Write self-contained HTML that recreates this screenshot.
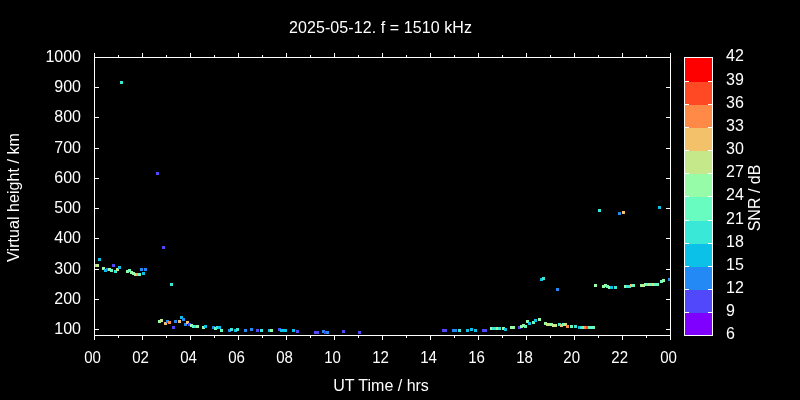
<!DOCTYPE html>
<html><head><meta charset="utf-8"><title>2025-05-12. f = 1510 kHz</title>
<style>html,body{margin:0;padding:0;background:#000}body{width:800px;height:400px;overflow:hidden}svg{display:block}text{font-family:"Liberation Sans",Arial,sans-serif;font-size:16px;fill:#fff}</style></head><body>
<svg width="800" height="400" viewBox="0 0 800 400">
<rect x="0" y="0" width="800" height="400" fill="#000"/>
<g shape-rendering="crispEdges">
<rect x="120" y="81" width="3" height="3" fill="#3ae8d7"/>
<rect x="156" y="172" width="3" height="3" fill="#5148fc"/>
<rect x="94" y="264" width="3" height="3" fill="#3ae8d7"/>
<rect x="96" y="264" width="3" height="3" fill="#c5e88a"/>
<rect x="98" y="258" width="3" height="3" fill="#0cc1e8"/>
<rect x="102" y="267" width="3" height="3" fill="#97fca7"/>
<rect x="104" y="269" width="3" height="3" fill="#0cc1e8"/>
<rect x="106" y="268" width="3" height="3" fill="#238af5"/>
<rect x="108" y="268" width="3" height="3" fill="#97fca7"/>
<rect x="110" y="269" width="3" height="3" fill="#68fcc1"/>
<rect x="112" y="264" width="3" height="3" fill="#5148fc"/>
<rect x="114" y="270" width="3" height="3" fill="#3ae8d7"/>
<rect x="116" y="268" width="3" height="3" fill="#c5e88a"/>
<rect x="118" y="266" width="3" height="3" fill="#0cc1e8"/>
<rect x="126" y="270" width="3" height="3" fill="#97fca7"/>
<rect x="128" y="269" width="3" height="3" fill="#68fcc1"/>
<rect x="130" y="271" width="3" height="3" fill="#97fca7"/>
<rect x="132" y="272" width="3" height="3" fill="#97fca7"/>
<rect x="134" y="273" width="3" height="3" fill="#97fca7"/>
<rect x="136" y="273" width="3" height="3" fill="#ffa050"/>
<rect x="138" y="273" width="3" height="3" fill="#68fcc1"/>
<rect x="140" y="268" width="3" height="3" fill="#238af5"/>
<rect x="142" y="272" width="3" height="3" fill="#0cc1e8"/>
<rect x="144" y="268" width="3" height="3" fill="#238af5"/>
<rect x="162" y="246" width="3" height="3" fill="#5148fc"/>
<rect x="170" y="283" width="3" height="3" fill="#3ae8d7"/>
<rect x="158" y="320" width="3" height="3" fill="#97fca7"/>
<rect x="160" y="319" width="3" height="3" fill="#c5e88a"/>
<rect x="164" y="322" width="3" height="3" fill="#f3c16a"/>
<rect x="166" y="320" width="3" height="3" fill="#238af5"/>
<rect x="168" y="321" width="3" height="3" fill="#ff8a48"/>
<rect x="172" y="326" width="3" height="3" fill="#5148fc"/>
<rect x="174" y="320" width="3" height="3" fill="#238af5"/>
<rect x="178" y="320" width="3" height="3" fill="#f3c16a"/>
<rect x="180" y="316" width="3" height="3" fill="#0cc1e8"/>
<rect x="182" y="318" width="3" height="3" fill="#238af5"/>
<rect x="184" y="323" width="3" height="3" fill="#238af5"/>
<rect x="186" y="321" width="3" height="3" fill="#f3c16a"/>
<rect x="188" y="323" width="3" height="3" fill="#5148fc"/>
<rect x="190" y="324" width="3" height="3" fill="#97fca7"/>
<rect x="192" y="325" width="3" height="3" fill="#68fcc1"/>
<rect x="194" y="325" width="3" height="3" fill="#3ae8d7"/>
<rect x="196" y="325" width="3" height="3" fill="#97fca7"/>
<rect x="202" y="326" width="3" height="3" fill="#97fca7"/>
<rect x="204" y="325" width="3" height="3" fill="#0cc1e8"/>
<rect x="212" y="326" width="3" height="3" fill="#238af5"/>
<rect x="214" y="327" width="3" height="3" fill="#68fcc1"/>
<rect x="216" y="326" width="3" height="3" fill="#3ae8d7"/>
<rect x="218" y="326" width="3" height="3" fill="#0cc1e8"/>
<rect x="220" y="329" width="3" height="3" fill="#68fcc1"/>
<rect x="228" y="329" width="3" height="3" fill="#238af5"/>
<rect x="230" y="328" width="3" height="3" fill="#3ae8d7"/>
<rect x="234" y="329" width="3" height="3" fill="#0cc1e8"/>
<rect x="236" y="328" width="3" height="3" fill="#3ae8d7"/>
<rect x="244" y="329" width="3" height="3" fill="#238af5"/>
<rect x="250" y="328" width="3" height="3" fill="#238af5"/>
<rect x="256" y="329" width="3" height="3" fill="#5148fc"/>
<rect x="260" y="329" width="3" height="3" fill="#3ae8d7"/>
<rect x="268" y="329" width="3" height="3" fill="#0cc1e8"/>
<rect x="270" y="329" width="3" height="3" fill="#97fca7"/>
<rect x="278" y="328" width="3" height="3" fill="#5148fc"/>
<rect x="280" y="329" width="3" height="3" fill="#0cc1e8"/>
<rect x="282" y="329" width="3" height="3" fill="#0cc1e8"/>
<rect x="284" y="329" width="3" height="3" fill="#0cc1e8"/>
<rect x="292" y="329" width="3" height="3" fill="#0cc1e8"/>
<rect x="296" y="330" width="3" height="3" fill="#5148fc"/>
<rect x="314" y="331" width="3" height="3" fill="#5148fc"/>
<rect x="316" y="331" width="3" height="3" fill="#5148fc"/>
<rect x="322" y="330" width="3" height="3" fill="#238af5"/>
<rect x="324" y="331" width="3" height="3" fill="#5148fc"/>
<rect x="326" y="331" width="3" height="3" fill="#238af5"/>
<rect x="342" y="330" width="3" height="3" fill="#5148fc"/>
<rect x="358" y="331" width="3" height="3" fill="#5148fc"/>
<rect x="442" y="329" width="3" height="3" fill="#5148fc"/>
<rect x="444" y="329" width="3" height="3" fill="#5148fc"/>
<rect x="452" y="329" width="3" height="3" fill="#238af5"/>
<rect x="454" y="329" width="3" height="3" fill="#238af5"/>
<rect x="458" y="329" width="3" height="3" fill="#3ae8d7"/>
<rect x="466" y="329" width="3" height="3" fill="#0cc1e8"/>
<rect x="470" y="328" width="3" height="3" fill="#0cc1e8"/>
<rect x="474" y="329" width="3" height="3" fill="#0cc1e8"/>
<rect x="482" y="329" width="3" height="3" fill="#5148fc"/>
<rect x="484" y="329" width="3" height="3" fill="#5148fc"/>
<rect x="490" y="327" width="3" height="3" fill="#97fca7"/>
<rect x="492" y="327" width="3" height="3" fill="#3ae8d7"/>
<rect x="494" y="327" width="3" height="3" fill="#3ae8d7"/>
<rect x="496" y="327" width="3" height="3" fill="#97fca7"/>
<rect x="498" y="327" width="3" height="3" fill="#3ae8d7"/>
<rect x="502" y="327" width="3" height="3" fill="#97fca7"/>
<rect x="504" y="328" width="3" height="3" fill="#0cc1e8"/>
<rect x="510" y="326" width="3" height="3" fill="#97fca7"/>
<rect x="512" y="326" width="3" height="3" fill="#97fca7"/>
<rect x="518" y="326" width="3" height="3" fill="#5148fc"/>
<rect x="520" y="325" width="3" height="3" fill="#97fca7"/>
<rect x="522" y="324" width="3" height="3" fill="#97fca7"/>
<rect x="524" y="325" width="3" height="3" fill="#68fcc1"/>
<rect x="526" y="320" width="3" height="3" fill="#97fca7"/>
<rect x="528" y="322" width="3" height="3" fill="#0cc1e8"/>
<rect x="532" y="321" width="3" height="3" fill="#68fcc1"/>
<rect x="534" y="319" width="3" height="3" fill="#0cc1e8"/>
<rect x="538" y="318" width="3" height="3" fill="#97fca7"/>
<rect x="544" y="322" width="3" height="3" fill="#97fca7"/>
<rect x="546" y="323" width="3" height="3" fill="#c5e88a"/>
<rect x="548" y="323" width="3" height="3" fill="#c5e88a"/>
<rect x="550" y="323" width="3" height="3" fill="#97fca7"/>
<rect x="552" y="324" width="3" height="3" fill="#c5e88a"/>
<rect x="554" y="324" width="3" height="3" fill="#c5e88a"/>
<rect x="558" y="323" width="3" height="3" fill="#3ae8d7"/>
<rect x="560" y="324" width="3" height="3" fill="#f3c16a"/>
<rect x="562" y="323" width="3" height="3" fill="#68fcc1"/>
<rect x="564" y="323" width="3" height="3" fill="#c5e88a"/>
<rect x="566" y="325" width="3" height="3" fill="#ff8a48"/>
<rect x="570" y="325" width="3" height="3" fill="#68fcc1"/>
<rect x="574" y="325" width="3" height="3" fill="#3ae8d7"/>
<rect x="578" y="326" width="3" height="3" fill="#0cc1e8"/>
<rect x="580" y="326" width="3" height="3" fill="#3ae8d7"/>
<rect x="582" y="326" width="3" height="3" fill="#68fcc1"/>
<rect x="584" y="326" width="3" height="3" fill="#ff8a48"/>
<rect x="586" y="326" width="3" height="3" fill="#ff4824"/>
<rect x="588" y="326" width="3" height="3" fill="#68fcc1"/>
<rect x="590" y="326" width="3" height="3" fill="#68fcc1"/>
<rect x="592" y="326" width="3" height="3" fill="#68fcc1"/>
<rect x="540" y="278" width="3" height="3" fill="#0cc1e8"/>
<rect x="542" y="277" width="3" height="3" fill="#3ae8d7"/>
<rect x="556" y="288" width="3" height="3" fill="#238af5"/>
<rect x="594" y="284" width="3" height="3" fill="#97fca7"/>
<rect x="602" y="285" width="3" height="3" fill="#97fca7"/>
<rect x="604" y="284" width="3" height="3" fill="#97fca7"/>
<rect x="606" y="285" width="3" height="3" fill="#68fcc1"/>
<rect x="608" y="286" width="3" height="3" fill="#97fca7"/>
<rect x="610" y="286" width="3" height="3" fill="#0cc1e8"/>
<rect x="614" y="286" width="3" height="3" fill="#3ae8d7"/>
<rect x="598" y="209" width="3" height="3" fill="#3ae8d7"/>
<rect x="618" y="212" width="3" height="3" fill="#238af5"/>
<rect x="622" y="211" width="3" height="3" fill="#f3c16a"/>
<rect x="658" y="206" width="3" height="3" fill="#0cc1e8"/>
<rect x="624" y="285" width="3" height="3" fill="#97fca7"/>
<rect x="626" y="285" width="3" height="3" fill="#3ae8d7"/>
<rect x="628" y="285" width="3" height="3" fill="#3ae8d7"/>
<rect x="630" y="284" width="3" height="3" fill="#f3c16a"/>
<rect x="632" y="284" width="3" height="3" fill="#68fcc1"/>
<rect x="640" y="284" width="3" height="3" fill="#97fca7"/>
<rect x="642" y="284" width="3" height="3" fill="#c5e88a"/>
<rect x="644" y="283" width="3" height="3" fill="#97fca7"/>
<rect x="646" y="283" width="3" height="3" fill="#68fcc1"/>
<rect x="648" y="283" width="3" height="3" fill="#c5e88a"/>
<rect x="650" y="283" width="3" height="3" fill="#68fcc1"/>
<rect x="652" y="283" width="3" height="3" fill="#c5e88a"/>
<rect x="654" y="283" width="3" height="3" fill="#68fcc1"/>
<rect x="656" y="283" width="3" height="3" fill="#68fcc1"/>
<rect x="660" y="280" width="3" height="3" fill="#68fcc1"/>
<rect x="662" y="279" width="3" height="3" fill="#97fca7"/>
<rect x="668" y="278" width="3" height="3" fill="#238af5"/>
</g>
<g fill="#fff" shape-rendering="crispEdges">
<rect x="94" y="57" width="577" height="1"/>
<rect x="94" y="335" width="577" height="1"/>
<rect x="94" y="57" width="1" height="279"/>
<rect x="670" y="57" width="1" height="279"/>
<rect x="94" y="336" width="1" height="4"/>
<rect x="94" y="53" width="1" height="4"/>
<rect x="118" y="336" width="1" height="2"/>
<rect x="118" y="55" width="1" height="2"/>
<rect x="142" y="336" width="1" height="4"/>
<rect x="142" y="53" width="1" height="4"/>
<rect x="166" y="336" width="1" height="2"/>
<rect x="166" y="55" width="1" height="2"/>
<rect x="190" y="336" width="1" height="4"/>
<rect x="190" y="53" width="1" height="4"/>
<rect x="214" y="336" width="1" height="2"/>
<rect x="214" y="55" width="1" height="2"/>
<rect x="238" y="336" width="1" height="4"/>
<rect x="238" y="53" width="1" height="4"/>
<rect x="262" y="336" width="1" height="2"/>
<rect x="262" y="55" width="1" height="2"/>
<rect x="286" y="336" width="1" height="4"/>
<rect x="286" y="53" width="1" height="4"/>
<rect x="310" y="336" width="1" height="2"/>
<rect x="310" y="55" width="1" height="2"/>
<rect x="334" y="336" width="1" height="4"/>
<rect x="334" y="53" width="1" height="4"/>
<rect x="358" y="336" width="1" height="2"/>
<rect x="358" y="55" width="1" height="2"/>
<rect x="382" y="336" width="1" height="4"/>
<rect x="382" y="53" width="1" height="4"/>
<rect x="406" y="336" width="1" height="2"/>
<rect x="406" y="55" width="1" height="2"/>
<rect x="430" y="336" width="1" height="4"/>
<rect x="430" y="53" width="1" height="4"/>
<rect x="454" y="336" width="1" height="2"/>
<rect x="454" y="55" width="1" height="2"/>
<rect x="478" y="336" width="1" height="4"/>
<rect x="478" y="53" width="1" height="4"/>
<rect x="502" y="336" width="1" height="2"/>
<rect x="502" y="55" width="1" height="2"/>
<rect x="526" y="336" width="1" height="4"/>
<rect x="526" y="53" width="1" height="4"/>
<rect x="550" y="336" width="1" height="2"/>
<rect x="550" y="55" width="1" height="2"/>
<rect x="574" y="336" width="1" height="4"/>
<rect x="574" y="53" width="1" height="4"/>
<rect x="598" y="336" width="1" height="2"/>
<rect x="598" y="55" width="1" height="2"/>
<rect x="622" y="336" width="1" height="4"/>
<rect x="622" y="53" width="1" height="4"/>
<rect x="646" y="336" width="1" height="2"/>
<rect x="646" y="55" width="1" height="2"/>
<rect x="670" y="336" width="1" height="4"/>
<rect x="670" y="53" width="1" height="4"/>
<rect x="95" y="329" width="4" height="1"/>
<rect x="666" y="329" width="4" height="1"/>
<rect x="95" y="299" width="4" height="1"/>
<rect x="666" y="299" width="4" height="1"/>
<rect x="95" y="269" width="4" height="1"/>
<rect x="666" y="269" width="4" height="1"/>
<rect x="95" y="238" width="4" height="1"/>
<rect x="666" y="238" width="4" height="1"/>
<rect x="95" y="208" width="4" height="1"/>
<rect x="666" y="208" width="4" height="1"/>
<rect x="95" y="178" width="4" height="1"/>
<rect x="666" y="178" width="4" height="1"/>
<rect x="95" y="148" width="4" height="1"/>
<rect x="666" y="148" width="4" height="1"/>
<rect x="95" y="117" width="4" height="1"/>
<rect x="666" y="117" width="4" height="1"/>
<rect x="95" y="87" width="4" height="1"/>
<rect x="666" y="87" width="4" height="1"/>
<rect x="95" y="57" width="4" height="1"/>
<rect x="666" y="57" width="4" height="1"/>
</g>
<g shape-rendering="crispEdges">
<rect x="684" y="312" width="29" height="24" fill="#8000ff"/>
<rect x="684" y="289" width="29" height="24" fill="#5148fc"/>
<rect x="684" y="266" width="29" height="24" fill="#238af5"/>
<rect x="684" y="243" width="29" height="24" fill="#0cc1e8"/>
<rect x="684" y="220" width="29" height="24" fill="#3ae8d7"/>
<rect x="684" y="196" width="29" height="25" fill="#68fcc1"/>
<rect x="684" y="173" width="29" height="24" fill="#97fca7"/>
<rect x="684" y="150" width="29" height="24" fill="#c5e88a"/>
<rect x="684" y="127" width="29" height="24" fill="#f3c16a"/>
<rect x="684" y="104" width="29" height="24" fill="#ff8a48"/>
<rect x="684" y="81" width="29" height="24" fill="#ff4824"/>
<rect x="684" y="57" width="29" height="25" fill="#ff0000"/>
<g fill="#fff">
<rect x="684" y="57" width="29" height="1"/>
<rect x="684" y="335" width="29" height="1"/>
<rect x="684" y="57" width="1" height="279"/>
<rect x="712" y="57" width="1" height="279"/>
<rect x="685" y="312" width="4" height="1"/>
<rect x="708" y="312" width="4" height="1"/>
<rect x="685" y="289" width="4" height="1"/>
<rect x="708" y="289" width="4" height="1"/>
<rect x="685" y="266" width="4" height="1"/>
<rect x="708" y="266" width="4" height="1"/>
<rect x="685" y="243" width="4" height="1"/>
<rect x="708" y="243" width="4" height="1"/>
<rect x="685" y="220" width="4" height="1"/>
<rect x="708" y="220" width="4" height="1"/>
<rect x="685" y="196" width="4" height="1"/>
<rect x="708" y="196" width="4" height="1"/>
<rect x="685" y="173" width="4" height="1"/>
<rect x="708" y="173" width="4" height="1"/>
<rect x="685" y="150" width="4" height="1"/>
<rect x="708" y="150" width="4" height="1"/>
<rect x="685" y="127" width="4" height="1"/>
<rect x="708" y="127" width="4" height="1"/>
<rect x="685" y="104" width="4" height="1"/>
<rect x="708" y="104" width="4" height="1"/>
<rect x="685" y="81" width="4" height="1"/>
<rect x="708" y="81" width="4" height="1"/>
</g></g>
<text x="289" y="33" textLength="183" lengthAdjust="spacing">2025-05-12. f = 1510 kHz</text>
<text x="81" y="334" text-anchor="end">100</text>
<text x="81" y="304" text-anchor="end">200</text>
<text x="81" y="274" text-anchor="end">300</text>
<text x="81" y="243" text-anchor="end">400</text>
<text x="81" y="213" text-anchor="end">500</text>
<text x="81" y="183" text-anchor="end">600</text>
<text x="81" y="153" text-anchor="end">700</text>
<text x="81" y="122" text-anchor="end">800</text>
<text x="81" y="92" text-anchor="end">900</text>
<text x="81" y="62" text-anchor="end">1000</text>
<text transform="translate(92.5,363) scale(0.94,1)" text-anchor="middle">00</text>
<text transform="translate(140.5,363) scale(0.94,1)" text-anchor="middle">02</text>
<text transform="translate(188.5,363) scale(0.94,1)" text-anchor="middle">04</text>
<text transform="translate(236.5,363) scale(0.94,1)" text-anchor="middle">06</text>
<text transform="translate(284.5,363) scale(0.94,1)" text-anchor="middle">08</text>
<text transform="translate(332.5,363) scale(0.94,1)" text-anchor="middle">10</text>
<text transform="translate(380.5,363) scale(0.94,1)" text-anchor="middle">12</text>
<text transform="translate(428.5,363) scale(0.94,1)" text-anchor="middle">14</text>
<text transform="translate(476.5,363) scale(0.94,1)" text-anchor="middle">16</text>
<text transform="translate(524.5,363) scale(0.94,1)" text-anchor="middle">18</text>
<text transform="translate(571.7,363) scale(0.94,1)" text-anchor="middle">20</text>
<text transform="translate(619.7,363) scale(0.94,1)" text-anchor="middle">22</text>
<text transform="translate(668.5,363) scale(0.94,1)" text-anchor="middle">00</text>
<text x="726" y="339.0">6</text>
<text x="726" y="316.0">9</text>
<text x="726" y="293.0">12</text>
<text x="726" y="270.0">15</text>
<text x="726" y="247.0">18</text>
<text x="726" y="224.0">21</text>
<text x="726" y="200.0">24</text>
<text x="726" y="177.0">27</text>
<text x="726" y="154.0">30</text>
<text x="726" y="131.0">33</text>
<text x="726" y="108.0">36</text>
<text x="726" y="85.0">39</text>
<text x="726" y="61.0">42</text>
<text x="381" y="390.5" text-anchor="middle">UT Time / hrs</text>
<text transform="translate(18.7,261.9) rotate(-90)" textLength="128.7" lengthAdjust="spacing">Virtual height / km</text>
<text transform="translate(760.3,198) rotate(-90)" text-anchor="middle">SNR / dB</text>
</svg></body></html>
